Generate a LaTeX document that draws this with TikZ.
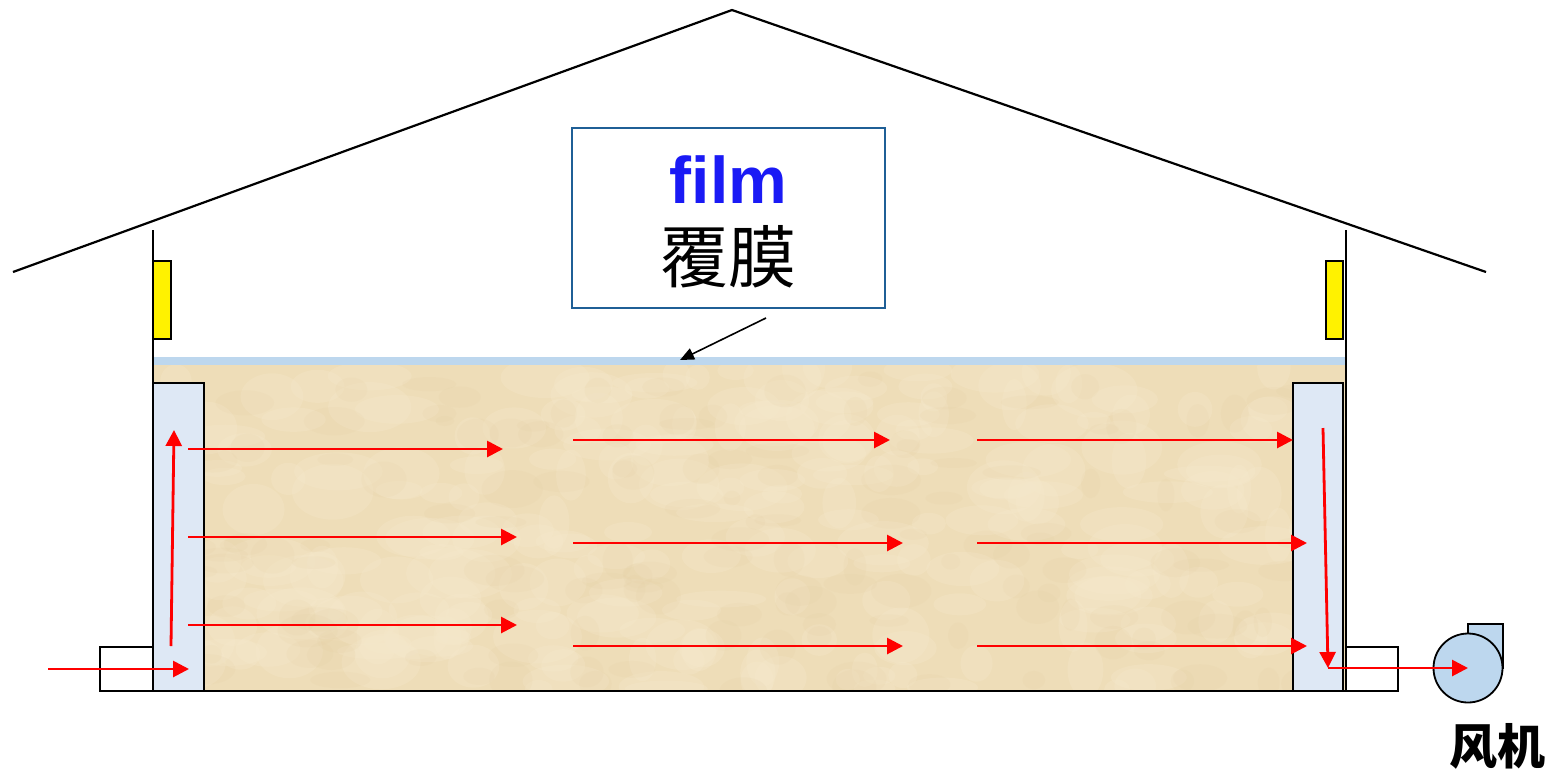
\documentclass[tikz,border=0pt]{standalone}
\usepackage{fontspec}
\setsansfont{Liberation Sans}
\newfontfamily\cjk{Noto Sans CJK SC}
\usetikzlibrary{arrows.meta}
\definecolor{grain}{HTML}{EEDDB8}
\definecolor{grainlight}{HTML}{F6E9CC}
\definecolor{graindark}{HTML}{E2CC9F}
\definecolor{filmblue}{HTML}{BDD7EE}
\definecolor{ductblue}{HTML}{DEE8F5}
\definecolor{boxedge}{HTML}{1F5F96}
\definecolor{labelblue}{HTML}{1A1AF5}
\tikzset{
  wall/.style={draw=black, line width=1.1pt},
  duct/.style={draw=black, line width=1.1pt, fill=ductblue},
  heater/.style={draw=black, line width=0.6pt, fill=yellow},
  airflow/.style={draw=red, line width=1.4pt, -{Triangle[length=8pt,width=8pt]}},
  pointer/.style={draw=black, line width=0.8pt, -{Triangle[length=7pt,width=6pt]}},
}
\begin{document}
\begin{tikzpicture}[x=0.5pt,y=-0.5pt]
\useasboundingbox (0,0) rectangle (1549,773);

% grain bulk with a mottled surface
\fill[grain] (153,365) rectangle (1346,691);
\begin{scope}
\clip (153,365) rectangle (1346,691);
\pgfmathsetseed{7}
\foreach \k in {1,...,260}{
  \pgfmathsetmacro{\px}{153+rnd*1193}
  \pgfmathsetmacro{\py}{365+rnd*326}
  \pgfmathsetmacro{\rx}{12+rnd*34}
  \pgfmathsetmacro{\ry}{8+rnd*20}
  \fill[grainlight, opacity=0.3] (\px,\py) ellipse [x radius=\rx, y radius=\ry];
}
\foreach \k in {1,...,160}{
  \pgfmathsetmacro{\px}{153+rnd*1193}
  \pgfmathsetmacro{\py}{365+rnd*326}
  \pgfmathsetmacro{\rx}{8+rnd*24}
  \pgfmathsetmacro{\ry}{5+rnd*14}
  \fill[graindark, opacity=0.12] (\px,\py) ellipse [x radius=\rx, y radius=\ry];
}
\end{scope}

% film laid on the grain surface
\fill[filmblue] (153,357) rectangle (1346,365);

% roof
\draw[wall] (13,272) -- (732,10) -- (1486,272);

% side walls and floor
\draw[wall] (153,230) -- (153,691) -- (1346,691) -- (1346,230);

% heaters on the walls
\node[heater, minimum width=9pt, minimum height=39pt, inner sep=0pt] (heatL) at (162,300) {};
\node[heater, minimum width=8.5pt, minimum height=39pt, inner sep=0pt] (heatR) at (1334.5,300) {};

% air ducts
\draw[duct] (153,383) rectangle (204,691);
\draw[duct] (1293,383) rectangle (1343,691);
\draw[wall] (1346,383) -- (1346,691);

% inlet and outlet sleeves
\draw[wall] (153,647) -- (100,647) -- (100,691) -- (153,691);
\draw[wall] (1346,647) -- (1398,647) -- (1398,691) -- (1346,691);

% fan
\fill[filmblue, draw=black, line width=0.9pt] (1468,624) rectangle (1503,668);
\node[circle, draw=black, line width=0.9pt, fill=filmblue, minimum size=34.5pt, inner sep=0pt] (fan) at (1468,668) {};
\node[font=\cjk\bfseries\fontsize{24}{28}\selectfont] (fanlabel) at (1497,746) {风机};

% film label
\node[draw=boxedge, line width=0.7pt, minimum width=156.5pt, minimum height=90pt, inner sep=0pt] (filmbox) at (728.5,218) {};
\node[font=\sffamily\bfseries\fontsize{33}{38}\selectfont, text=labelblue] (filmen) at (728.5,180) {film};
\node[font=\cjk\fontsize{34}{38}\selectfont] (filmcn) at (728.5,257) {覆膜};
\coordinate (ptrA) at (766,318);
\coordinate (ptrB) at (680,360);
\draw[pointer] (ptrA) -- (ptrB);

% airflow: inlet and rise in the left duct
\coordinate (in0) at (48,669);
\coordinate (in1) at (189,669);
\draw[airflow] (in0) -- (in1);
\coordinate (up0) at (171,646);
\coordinate (up1) at (174,430);
\draw[airflow] (up0) -- (up1);

% airflow through the grain, three rows in three stages
\foreach \n/\xa/\xb/\y in {
  a1/188/503/449, a2/573/890/440, a3/977/1293/440,
  b1/188/517/537, b2/573/903/543, b3/977/1307/543,
  c1/188/517/625, c2/573/903/646, c3/977/1307/646}{
  \coordinate (\n s) at (\xa,\y);
  \coordinate (\n e) at (\xb,\y);
  \draw[airflow] (\n s) -- (\n e);
}

% airflow: fall in the right duct and exit to the fan
\coordinate (dn0) at (1323,428);
\coordinate (dn1) at (1328,668);
\draw[airflow] (dn0) -- (dn1);
\draw[airflow] (dn1) -- (fan.center);
\end{tikzpicture}
\end{document}
